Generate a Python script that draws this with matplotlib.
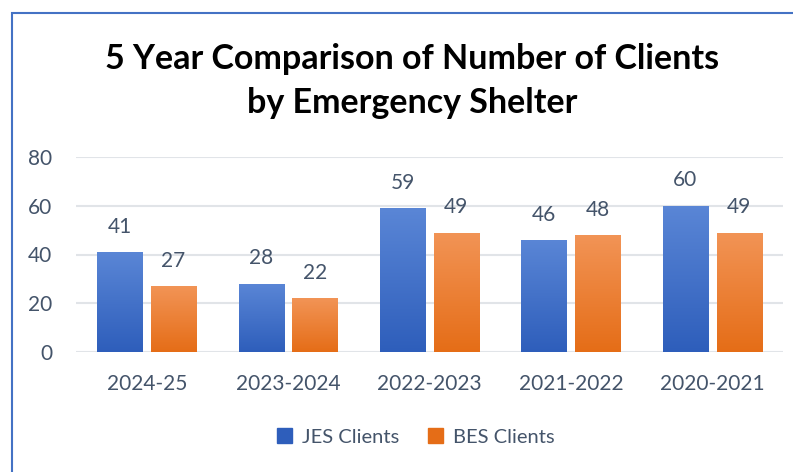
import numpy as np
import matplotlib.pyplot as plt
from matplotlib.colors import LinearSegmentedColormap
from matplotlib.patches import Rectangle

plt.rcParams['font.family'] = ['Lato', 'DejaVu Sans']

# Datos del gráfico
years = ['2024-25', '2023-2024', '2022-2023', '2021-2022', '2020-2021']
jes_clients = [41, 28, 59, 46, 60]
bes_clients = [27, 22, 49, 48, 49]

text_color = '#44546A'
blue_top, blue_bottom = '#5A86D6', '#2E5EBB'
orange_top, orange_bottom = '#F29456', '#E56D17'

fig = plt.figure(figsize=(7.93, 4.72), dpi=100)
ax = fig.add_axes([76 / 793, 1 - 352 / 472, (783 - 76) / 793, (352 - 157) / 472])

# Borde del gráfico (azul, arriba y a la izquierda)
fig.patches.append(Rectangle((12 / 793, -0.1), 1.2, 1 - 13 / 472 + 0.1,
                             transform=fig.transFigure, fill=False,
                             edgecolor='#4472C4', linewidth=1.5))

x = np.arange(len(years))
width = 0.32
offset = 0.19


def gradient_bars(xs, vals, top, bottom):
    cmap = LinearSegmentedColormap.from_list('g', [bottom, top])
    grad = np.linspace(0, 1, 256).reshape(-1, 1)
    bars = ax.bar(xs, vals, width, color='none', zorder=2)
    for b in bars:
        bx, by = b.get_x(), b.get_y()
        h = b.get_height()
        im = ax.imshow(grad, cmap=cmap, aspect='auto', origin='lower',
                       extent=[bx, bx + b.get_width(), by, by + h], zorder=2)
        im.set_clip_path(b)
    return bars


b1 = gradient_bars(x - offset, jes_clients, blue_top, blue_bottom)
b2 = gradient_bars(x + offset, bes_clients, orange_top, orange_bottom)

for bars, vals in [(b1, jes_clients), (b2, bes_clients)]:
    for b, v in zip(bars, vals):
        ax.annotate(str(v), (b.get_x() + b.get_width() / 2, v),
                    xytext=(0, 11), textcoords='offset points',
                    ha='center', va='bottom', fontsize=15, color=text_color)

ax.set_xlim(-0.5, 4.5)
ax.set_ylim(0, 80)
ax.set_yticks([0, 20, 40, 60, 80])
ax.set_xticks(x)
ax.set_xticklabels(years)
ax.grid(axis='y', color='#E1E4E8', linewidth=1.5, zorder=0)
ax.set_axisbelow(True)
for s in ax.spines.values():
    s.set_visible(False)
ax.tick_params(length=0, labelsize=15, colors=text_color)
ax.tick_params(axis='x', pad=16)
ax.tick_params(axis='y', pad=17)

fig.text(412 / 793, 1 - 81 / 472, '5 Year Comparison of Number of Clients\nby Emergency Shelter',
         ha='center', va='center', fontsize=24.5, fontweight='bold', color='black',
         linespacing=1.45)

handles = [Rectangle((0, 0), 1, 1, color=blue_bottom), Rectangle((0, 0), 1, 1, color=orange_bottom)]
fig.legend(handles, ['JES Clients', 'BES Clients'], loc='center',
           bbox_to_anchor=(416 / 793, 1 - 437 / 472), ncol=2, frameon=False,
           fontsize=14.5, labelcolor=text_color, handlelength=0.75, handleheight=0.75,
           columnspacing=1.4, handletextpad=0.5)

fig.savefig('out.png', dpi=100)
